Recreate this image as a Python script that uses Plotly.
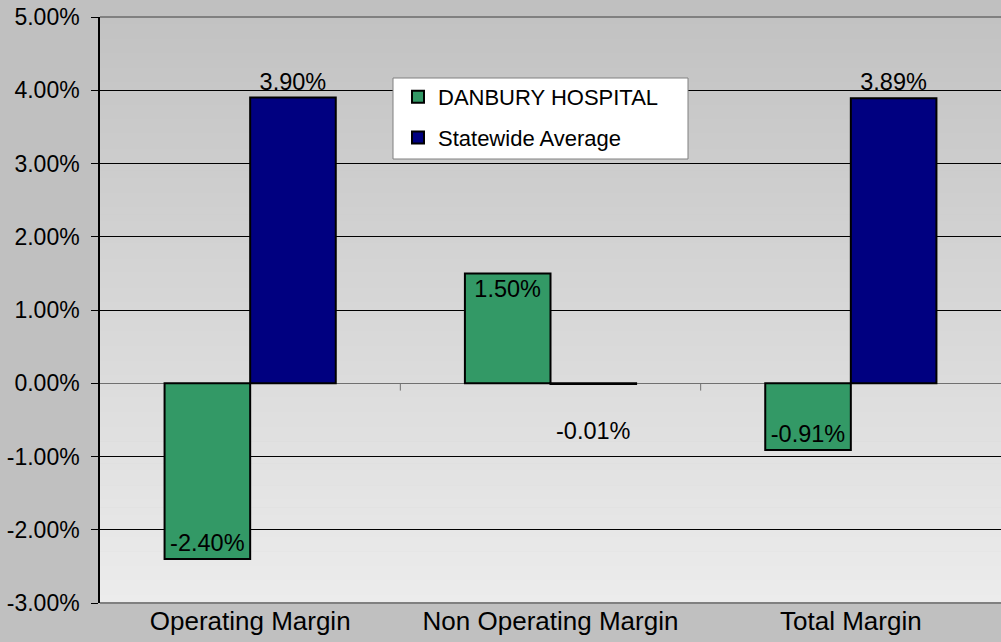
import plotly.graph_objects as go

categories = ["Operating Margin", "Non Operating Margin", "Total Margin"]
danbury = [-2.40, 1.50, -0.91]
statewide = [3.90, -0.01, 3.89]
y_ticks = [5, 4, 3, 2, 1, 0, -1, -2, -3]

FONT = "Liberation Sans, Arial, sans-serif"
GREEN = "#339966"
NAVY = "#000080"


def gray(v):
    v = int(round(v))
    return "rgb({0},{0},{0})".format(v)


fig = go.Figure()

fig.add_trace(go.Bar(
    x=categories, y=danbury, name="DANBURY HOSPITAL",
    marker=dict(color=GREEN, line=dict(color="black", width=2)),
    texttemplate="%{y:.2f}%", textposition="inside", insidetextanchor="end",
    textangle=0, constraintext="none",
    textfont=dict(family=FONT, size=23.5, color="black"),
    legendgroup="a",
))
# negative outside labels sit lower in the original, push them down a line
stat_tpl = ["&nbsp;<br>%{y:.2f}%" if v < 0 else "%{y:.2f}%" for v in statewide]
fig.add_trace(go.Bar(
    x=categories, y=statewide, name="Statewide Average",
    marker=dict(color=NAVY, line=dict(color="black", width=2)),
    texttemplate=stat_tpl, textposition="outside", textangle=0,
    constraintext="none", cliponaxis=False,
    textfont=dict(family=FONT, size=23.5, color="black"),
    legendgroup="b",
))

shapes = []
# gradient plot background
n = 80
for i in range(n):
    t = i / n
    shapes.append(dict(type="rect", xref="paper", yref="paper",
                       x0=0, x1=1, y0=1 - (i + 1) / n, y1=1 - t + 0.001,
                       fillcolor=gray(194 + (236 - 194) * (t + 0.5 / n)),
                       line=dict(width=0), layer="below"))
# plot border top/bottom
for yy in (0, 1):
    shapes.append(dict(type="line", xref="paper", yref="paper", x0=0, x1=1,
                       y0=yy, y1=yy, line=dict(color="#808080", width=2), layer="above"))
# category separators on zero line
for xx in (0.5, 1.5):
    shapes.append(dict(type="line", xref="x", yref="y", x0=xx, x1=xx,
                       y0=0, y1=-0.1, line=dict(color="#707070", width=1), layer="above"))
# legend box
shapes.append(dict(type="rect", xref="paper", yref="paper",
                   x0=(393 - 100) / 901, x1=(688 - 100) / 901,
                   y0=(603 - 159) / 586, y1=(603 - 78) / 586,
                   fillcolor="white", line=dict(color="#808080", width=1), layer="above"))

fig.update_layout(
    width=1001, height=642,
    margin=dict(l=100, r=0, t=17, b=39, autoexpand=False),
    paper_bgcolor="#c0c0c0", plot_bgcolor="#c0c0c0",
    barmode="group", bargap=0.43, bargroupgap=0,
    font=dict(family=FONT, color="black"),
    showlegend=True,
    legend=dict(x=(398 - 100) / 901, y=(603 - 76) / 586, xanchor="left", yanchor="top",
                bgcolor="rgba(0,0,0,0)", borderwidth=0, tracegroupgap=9,
                font=dict(family=FONT, size=22, color="black")),
    shapes=shapes,
)
fig.update_xaxes(type="category", range=[-0.5, 2.5], showgrid=False, showline=False,
                 ticks="", tickfont=dict(family=FONT, size=26, color="black"),
                 automargin=False, fixedrange=True)
fig.update_yaxes(range=[-3, 5], tickvals=y_ticks, ticktext=["%.2f%%" % v for v in y_ticks],
                 showgrid=True, gridcolor="black", gridwidth=1,
                 zeroline=True, zerolinecolor="#707070", zerolinewidth=1,
                 showline=True, linecolor="black", linewidth=1.5,
                 ticks="outside", ticklen=7, tickcolor="black", ticklabelstandoff=7,
                 tickfont=dict(family=FONT, size=23, color="black"),
                 automargin=False, fixedrange=True)

fig.write_html("out.html", config={"displayModeBar": False},
               post_script="document.body.style.margin='0';")
